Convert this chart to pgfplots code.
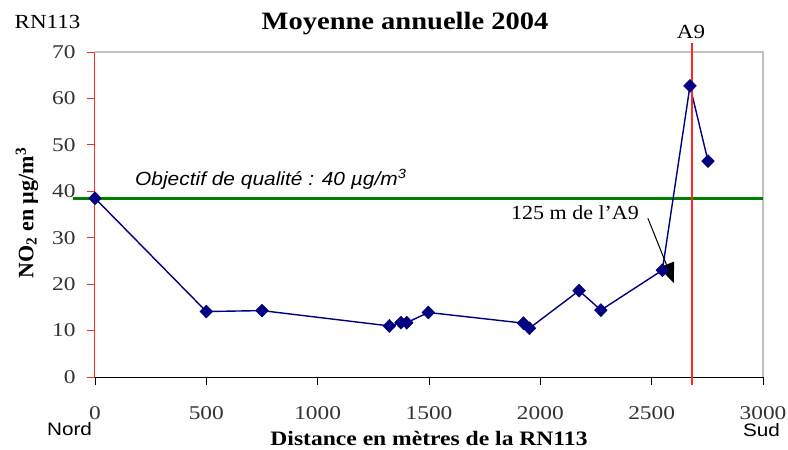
\documentclass[border=0pt]{standalone}
\usepackage{fontspec}
\setmainfont{Liberation Serif}
\newfontfamily\arial{Liberation Sans}
\usepackage{pgfplots}
\pgfplotsset{compat=1.18}
\usetikzlibrary{arrows.meta}
\definecolor{navy}{RGB}{0,0,128}
\definecolor{dgreen}{RGB}{0,128,0}
\definecolor{bordergray}{RGB}{192,192,192}
\definecolor{tickred}{RGB}{255,40,40}
\begin{document}
\begin{tikzpicture}
\useasboundingbox (-95bp,-73bp) rectangle (693bp,377bp);
\begin{axis}[
 scale only axis, width=668bp, height=325bp,
 xmin=0, xmax=3000, ymin=0, ymax=70,
 axis line style={draw=none},
 xtick={0,500,...,3000}, ytick={0,10,...,70},
 tick align=outside,
 xtick pos=bottom, ytick pos=left,
 major tick length=8bp,
 xtick style={black, line width=0.8bp},
 ytick style={tickred, line width=0.8bp},
 /pgf/number format/1000 sep={},
 /pgf/number format/assume math mode=true,
 ticklabel style={font=\fontsize{19.5bp}{21bp}\selectfont, text=black!80, xscale=1.2},
 xticklabel style={yshift=-18bp},
 yticklabel style={xshift=-6bp},
 clip=false,
]
\draw[bordergray, line width=1.5bp] (rel axis cs:0,1) -- (rel axis cs:1,1) -- (rel axis cs:1,0);
\draw[black, line width=1bp] (rel axis cs:0,0) -- (rel axis cs:1,0);
\draw[tickred, line width=1bp] (rel axis cs:0,0) -- (rel axis cs:0,1);
\addplot[draw=dgreen, line width=3bp] coordinates {(-100,38.5) (3000,38.5)};
\addplot[draw=navy, line width=1.4bp, mark=diamond*, mark size=6.5bp,
  mark options={fill=navy, draw=navy, line width=0.5bp, xscale=1.3}] coordinates {
 (0,38.5) (500,14.1) (750,14.3) (1322,11.0) (1374,11.7) (1400,11.7)
 (1497,13.9) (1924,11.6) (1951,10.5) (2174,18.6) (2272,14.4)
 (2548,23.0) (2672,62.7) (2753,46.5)};
\draw[draw=tickred, line width=1.6bp] (axis cs:2680,-1.8) -- (axis cs:2680,71.9);
\draw[black, line width=1bp, -{Triangle[length=20bp,width=16bp]}] (axis cs:2483,34.2) -- (axis cs:2600,20.2);
\end{axis}
\node[anchor=base, font=\bfseries\fontsize{25bp}{28bp}\selectfont, xscale=1.14] at (310bp,347bp) {Moyenne annuelle 2004};
\node[anchor=base, font=\fontsize{20bp}{22bp}\selectfont, xscale=1.15] at (-47.5bp,348.7bp) {RN113};
\node[anchor=base, font=\fontsize{20bp}{22bp}\selectfont, xscale=1.15] at (596bp,338.7bp) {A9};
\node[anchor=base, font=\arial\fontsize{18bp}{20bp}\selectfont, xscale=1.15] at (-25.5bp,-58bp) {Nord};
\node[anchor=base, font=\arial\fontsize{18bp}{20bp}\selectfont, xscale=1.15] at (666.5bp,-59bp) {Sud};
\node[anchor=base, font=\bfseries\fontsize{20.5bp}{22bp}\selectfont, xscale=1.15] at (334bp,-68bp) {Distance en mètres de la RN113};
\node[rotate=90, font=\bfseries\fontsize{22bp}{24bp}\selectfont] at (-68bp,164bp) {NO\textsubscript{2} en µg/m\textsuperscript{3}};
\node[anchor=base west, font=\arial\itshape\fontsize{19bp}{21bp}\selectfont, xscale=1.1, inner sep=0pt] at (40bp,191bp) {Objectif de qualité : 40 µg/m\textsuperscript{3}};
\node[anchor=base, font=\fontsize{20bp}{22bp}\selectfont, xscale=1.1] at (480bp,157bp) {125 m de l'A9};
\end{tikzpicture}
\end{document}
